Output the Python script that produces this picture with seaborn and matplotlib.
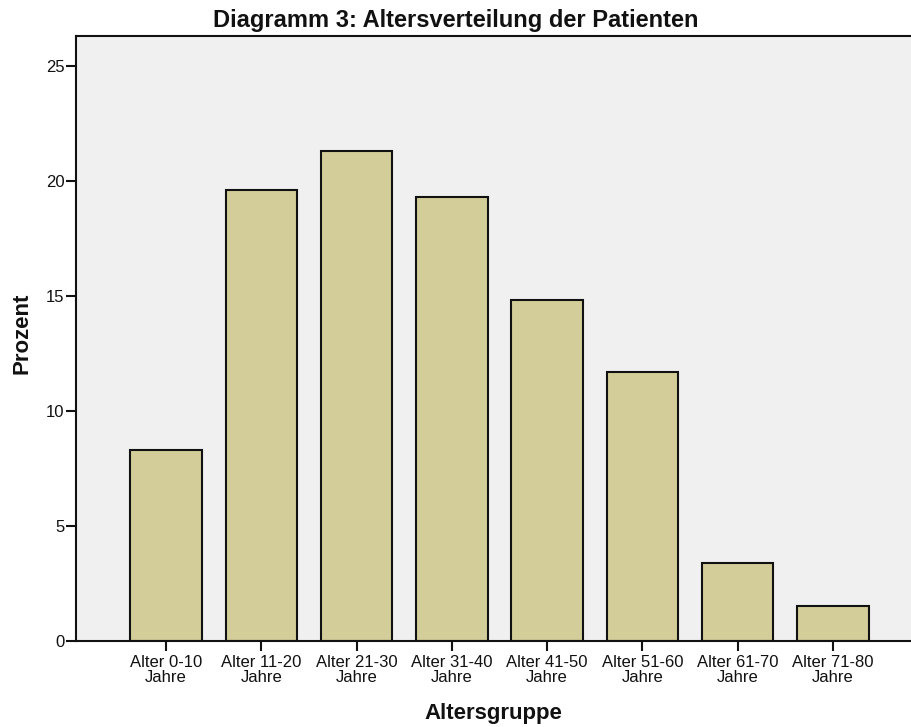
import matplotlib
matplotlib.use("Agg")
import matplotlib.pyplot as plt
import seaborn as sns
import pandas as pd

# Age groups and share of patients (percent)
categories = ["Alter 0-10\nJahre", "Alter 11-20\nJahre", "Alter 21-30\nJahre",
              "Alter 31-40\nJahre", "Alter 41-50\nJahre", "Alter 51-60\nJahre",
              "Alter 61-70\nJahre", "Alter 71-80\nJahre"]
percent = [8.3, 19.6, 21.3, 19.3, 14.8, 11.7, 3.4, 1.5]
y_ticks = [0, 5, 10, 15, 20, 25]

df = pd.DataFrame({"Altersgruppe": categories, "Prozent": percent})

sns.set_style("white", {"axes.facecolor": "#F0F0F0", "axes.edgecolor": "black"})
plt.rcParams["font.family"] = ["Liberation Sans", "DejaVu Sans"]

fig = plt.figure(figsize=(9.11, 7.27), dpi=100)
ax = fig.add_axes([0.0831, 0.1187, 0.9169, 0.8318])

sns.barplot(data=df, x="Altersgruppe", y="Prozent", color="#D3CE99",
            saturation=1, width=0.75, edgecolor="#111111", linewidth=1.5, ax=ax)

ax.set_xlim(-0.948, 7.82)
ax.set_ylim(0, 26.3)
ax.set_yticks(y_ticks)
ax.set_yticklabels([str(t) for t in y_ticks])

ax.spines["right"].set_visible(False)
for side in ["left", "top", "bottom"]:
    ax.spines[side].set_linewidth(1.5)
    ax.spines[side].set_color("#111111")

ax.tick_params(axis="both", which="both", direction="out", length=7, width=1.5,
               color="#111111", labelsize=12, labelcolor="#111111")
ax.tick_params(axis="x", pad=3, bottom=True)
ax.tick_params(axis="y", pad=1, left=True)
for lab in ax.get_xticklabels():
    lab.set_linespacing(1.0)

ax.set_xlabel("")
ax.set_ylabel("")

fig.text(0.5, 1 - 21 / 727, "Diagramm 3: Altersverteilung der Patienten",
         ha="center", va="center", fontsize=17, fontweight="bold", color="#111111")
fig.text(0.5415, 1 - 713 / 727, "Altersgruppe", ha="center", va="center",
         fontsize=16, fontweight="bold", color="#111111")
fig.text(22 / 911, 1 - 333 / 727, "Prozent", ha="center", va="center",
         rotation=90, fontsize=16, fontweight="bold", color="#111111")

fig.savefig("out.png", dpi=100, facecolor="white")
